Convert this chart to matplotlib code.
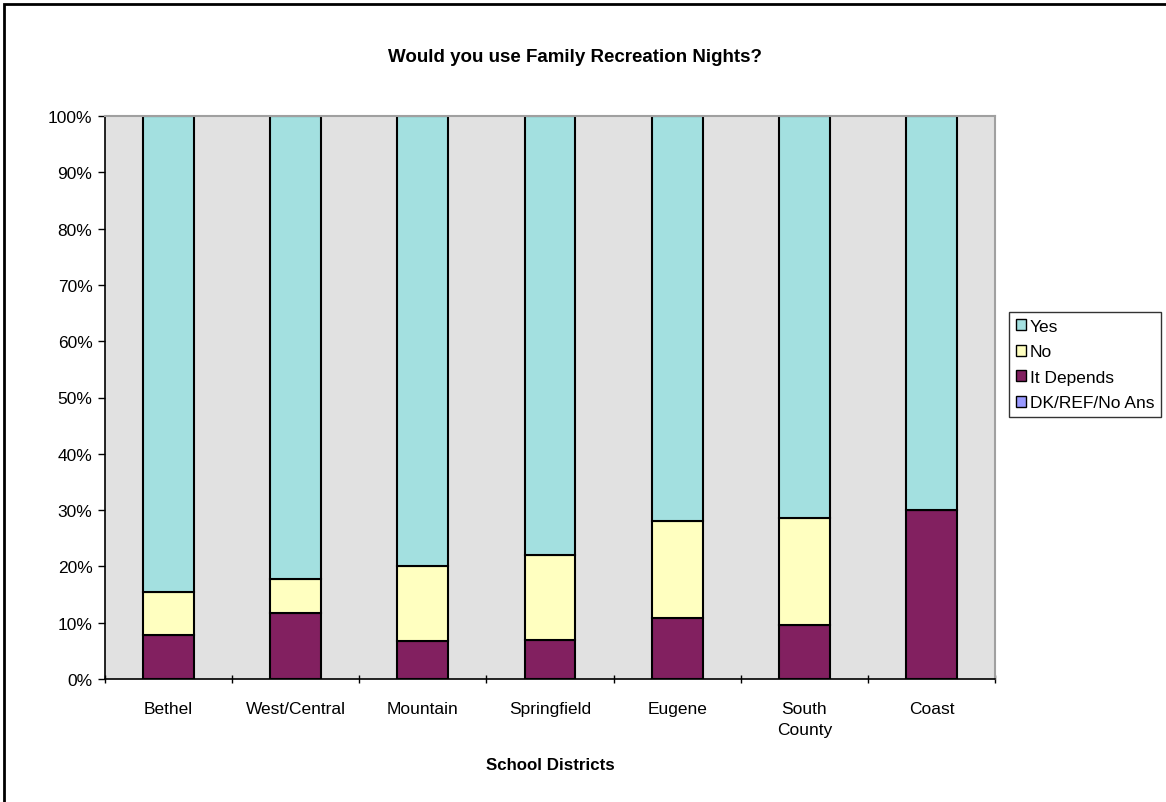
import matplotlib.pyplot as plt
import numpy as np
from matplotlib.patches import Rectangle, Patch
from matplotlib.ticker import FixedLocator

plt.rcParams['font.family'] = ['Liberation Sans', 'DejaVu Sans']

# datos (porcentajes)
distritos = ['Bethel', 'West/Central', 'Mountain', 'Springfield', 'Eugene', 'South\nCounty', 'Coast']
dk_ref = [0, 0, 0, 0, 0, 0, 0]
depende = [7.8, 11.8, 6.8, 6.9, 10.9, 9.6, 30.0]
no = [7.7, 6.0, 13.3, 15.1, 17.2, 19.0, 0.0]
si = [84.5, 82.2, 79.9, 78.0, 71.9, 71.4, 70.0]

colores = {'Yes': '#A3E0E0', 'No': '#FFFFC0', 'It Depends': '#822060', 'DK/REF/No Ans': '#9999FF'}

fig = plt.figure(figsize=(11.66, 8.03), dpi=100)
ax = fig.add_axes([105/1166, 123/803, 890/1166, 563/803])
ax.set_facecolor('#E1E1E1')

x = np.arange(len(distritos))
ancho = 0.4
base = np.zeros(len(distritos))
for nombre, vals in [('DK/REF/No Ans', dk_ref), ('It Depends', depende), ('No', no), ('Yes', si)]:
    vals = np.array(vals)
    ax.bar(x, vals, ancho, bottom=base, color=colores[nombre], edgecolor='black', linewidth=1.5)
    base = base + vals

ax.set_xlim(-0.5, len(distritos) - 0.5)
ax.set_ylim(0, 100)
ax.set_yticks(range(0, 101, 10))
ax.set_yticklabels([f'{v}%' for v in range(0, 101, 10)], fontsize=12.5)

ax.set_xticks(x)
ax.set_xticklabels(distritos, fontsize=12.5, linespacing=1.5)
ax.xaxis.set_minor_locator(FixedLocator(np.arange(-0.5, len(distritos), 1)))
ax.tick_params(axis='x', which='major', length=0, pad=16)
ax.tick_params(axis='x', which='minor', length=6, width=1, direction='inout')
ax.tick_params(axis='y', length=5, width=1, direction='out', pad=4)

for lado in ['left', 'bottom']:
    ax.spines[lado].set_color('black')
    ax.spines[lado].set_linewidth(1.2)
for lado in ['top', 'right']:
    ax.spines[lado].set_color('#A0A0A0')
    ax.spines[lado].set_linewidth(1.5)

ax.set_xlabel('School Districts', fontsize=12.2, fontweight='bold', labelpad=14)
fig.text(575/1166, 1 - 57/803, 'Would you use Family Recreation Nights?', fontsize=13.5,
         fontweight='bold', ha='center', va='center')

handles = [Patch(facecolor=colores[n], edgecolor='black', label=n)
           for n in ['Yes', 'No', 'It Depends', 'DK/REF/No Ans']]
leg = fig.legend(handles=handles, loc='upper left', bbox_to_anchor=(1009/1166, 1 - 313/803),
                 fontsize=12.5, frameon=True, fancybox=False, handlelength=0.6, handleheight=0.6,
                 handletextpad=0.2, borderpad=0.4, labelspacing=0.6, borderaxespad=0)
leg.get_frame().set_edgecolor('black')
leg.get_frame().set_linewidth(1)

# marco de la figura
fig.patches.append(Rectangle((4/1166, -0.01), 1.02, 1 - 5/803 + 0.01, transform=fig.transFigure,
                             fill=False, edgecolor='black', linewidth=2))

fig.savefig('out.png', dpi=100)
